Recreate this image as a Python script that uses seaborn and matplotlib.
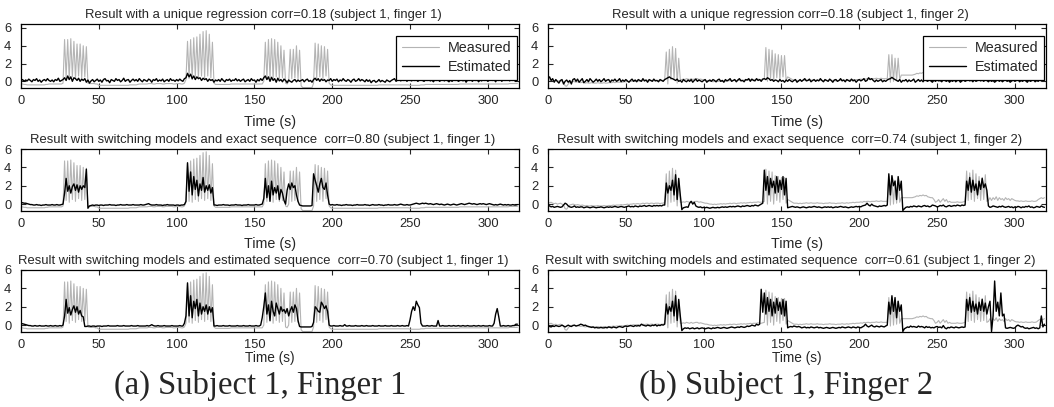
import numpy as np
import matplotlib
matplotlib.use("Agg")
import matplotlib.pyplot as plt
import seaborn as sns

# Data: one sample per second, t = 0 .. 319 s
# Finger 1 measured (same trace in all three panels)
meas_f1 = [
    -0.3, -0.3, -0.35, -0.35, -0.4, -0.4, -0.4, -0.4, -0.4, -0.4, -0.4, -0.4, -0.4, -0.4, -0.4, -0.4, -0.35, -0.35, -0.3, -0.3,
    -0.3, -0.3, -0.3, -0.3, -0.3, -0.3, -0.3, -0.2, 4.7, 0.4, 4.7, 0.2, 4.8, 0.5, 4.5, 0.3, 4.2, 0.6, 4.2, 0.4,
    4.0, 0.5, 3.9, -0.2, -0.25, -0.25, -0.25, -0.25, -0.3, -0.3, -0.45, -0.45, -0.45, -0.45, -0.45, -0.45, -0.45, -0.45, -0.45, -0.45,
    -0.45, -0.45, -0.45, -0.45, -0.45, -0.45, -0.45, -0.45, -0.45, -0.45, -0.4, -0.4, -0.4, -0.4, -0.4, -0.35, -0.3, -0.3, -0.3, -0.3,
    -0.3, -0.3, -0.25, -0.25, -0.25, -0.3, -0.3, -0.25, -0.25, -0.25, -0.25, -0.3, -0.3, -0.25, -0.25, -0.25, -0.25, -0.25, -0.3, -0.3,
    -0.25, -0.25, -0.25, -0.3, -0.3, -0.2, 0.2, 4.5, 0.3, 4.7, 0.2, 4.9, 0.5, 5.0, 0.3, 5.3, 0.6, 5.6, 0.4, 5.7,
    0.6, 5.3, 0.4, 4.4, -0.2, -0.35, -0.35, -0.35, -0.35, -0.35, -0.35, -0.35, -0.35, -0.35, -0.35, -0.3, -0.3, -0.3, -0.3, -0.3,
    -0.3, -0.3, -0.3, -0.3, -0.3, -0.3, -0.3, -0.3, -0.3, -0.3, -0.3, -0.3, -0.3, -0.3, -0.3, -0.3, 0.0, 4.4, 0.3, 4.7,
    0.4, 4.8, 0.2, 4.7, 0.5, 4.4, 0.3, 4.0, 0.4, 3.5, -0.2, -0.3, 0.0, 3.6, 0.3, 3.6, 0.4, 4.0, 0.3, 3.5,
    -0.5, -0.7, -0.7, -0.7, -0.7, -0.7, -0.7, -0.7, -0.2, 4.3, 0.3, 4.2, 0.5, 4.0, 0.3, 3.9, 0.6, 3.6, -0.2, -0.4,
    -0.45, -0.45, -0.45, -0.45, -0.45, -0.45, -0.45, -0.45, -0.45, -0.45, -0.45, -0.45, -0.45, -0.45, -0.45, -0.45, -0.45, -0.45, -0.45, -0.45,
    -0.45, -0.45, -0.45, -0.45, -0.45, -0.45, -0.45, -0.45, -0.45, -0.45, -0.4, -0.4, -0.4, -0.4, -0.4, -0.4, -0.4, -0.4, -0.4, -0.4,
    -0.4, -0.4, -0.4, -0.4, -0.4, -0.4, -0.4, -0.4, -0.4, -0.4, -0.45, -0.45, -0.45, -0.45, -0.45, -0.45, -0.45, -0.4, -0.4, -0.4,
    -0.35, -0.35, -0.35, -0.35, -0.35, -0.35, -0.35, -0.35, -0.35, -0.35, -0.35, -0.35, -0.35, -0.35, -0.35, -0.35, -0.35, -0.35, -0.35, -0.35,
    -0.35, -0.35, -0.3, -0.3, -0.3, -0.3, -0.3, -0.3, -0.3, -0.3, -0.3, -0.3, -0.3, -0.3, -0.3, -0.3, -0.3, -0.3, -0.3, -0.3,
    -0.3, -0.3, -0.3, -0.3, -0.3, -0.3, -0.3, -0.3, -0.3, -0.3, -0.3, -0.3, -0.3, -0.3, -0.25, -0.25, -0.25, -0.25, -0.25, -0.25,
]

# Finger 1 estimated, unique regression
est_f1_unique = [
    0.1, 0.2, 0.0, 0.15, 0.05, 0.25, 0.1, -0.05, 0.2, 0.1, 0.3, 0.0, 0.15, -0.1, 0.1, 0.2, 0.05, 0.3, 0.1, 0.0,
    0.15, -0.05, 0.2, 0.1, 0.35, 0.0, 0.1, 0.2, 0.4, 0.1, 0.6, 0.2, 0.5, 0.0, 0.4, 0.3, 0.1, 0.35, 0.0, 0.25,
    0.1, 0.3, -0.1, 0.15, -0.2, 0.05, 0.2, -0.05, 0.1, 0.25, 0.0, 0.15, -0.1, 0.2, 0.3, 0.05, 0.1, -0.15, 0.2, 0.1,
    0.0, 0.3, 0.1, 0.2, -0.05, 0.1, 0.35, 0.0, 0.15, 0.2, -0.1, 0.1, 0.25, 0.05, 0.2, 0.0, 0.3, 0.1, -0.05, 0.2,
    0.1, 0.0, 0.25, 0.15, -0.1, 0.2, 0.1, 0.3, 0.0, 0.15, 0.05, 0.25, -0.05, 0.1, 0.2, 0.0, 0.3, 0.1, 0.15, 0.0,
    0.2, 0.05, 0.25, 0.1, 0.0, 0.3, 0.4, 0.9, 0.5, 0.8, 0.3, 0.6, 0.2, 0.5, 0.3, 0.4, 0.1, 0.35, 0.2, 0.3,
    0.0, 0.25, 0.1, 0.2, -0.1, 0.15, 0.05, 0.2, 0.0, 0.3, 0.1, -0.05, 0.2, 0.1, 0.25, 0.0, 0.15, 0.1, 0.3, 0.05,
    0.2, 0.0, 0.15, 0.25, -0.05, 0.1, 0.2, 0.0, 0.3, 0.1, 0.15, -0.1, 0.2, 0.05, 0.3, 0.1, 0.4, 0.6, 0.2, 0.5,
    0.0, 0.45, 0.1, 0.3, -0.1, 0.35, 0.05, 0.2, -0.05, 0.25, 0.1, -0.15, 0.15, 0.0, -0.1, 0.1, 0.2, -0.05, 0.15, 0.0,
    0.1, 0.2, -0.05, 0.15, 0.25, 0.0, 0.1, -0.1, 0.2, 0.35, 0.1, 0.3, 0.0, 0.25, 0.1, 0.2, -0.05, 0.15, 0.1, 0.3,
    0.0, 0.2, 0.1, 0.25, -0.05, 0.15, 0.05, 0.3, 0.1, 0.0, 0.2, 0.1, -0.1, 0.15, 0.25, 0.0, 0.1, 0.3, 0.05, 0.2,
    0.1, -0.05, 0.2, 0.0, 0.15, -0.15, 0.05, 0.1, -0.1, 0.0, 0.2, -0.05, 0.1, 0.0, -0.1, 0.15, 0.05, -0.05, 0.1, 0.2,
    0.3, 0.0, 0.15, 0.35, 0.05, 0.2, 0.1, 0.3, 0.0, 0.25, 0.15, 0.05, 0.3, 0.1, 0.2, 0.0, 0.15, 0.25, 0.1, 0.0,
    0.2, 0.1, 0.3, 0.05, 0.15, -0.05, 0.2, 0.1, 0.25, 0.0, 0.15, 0.3, 0.05, 0.2, 0.1, -0.05, 0.15, 0.0, 0.2, 0.1,
    0.25, 0.0, 0.1, 0.3, 0.05, 0.2, -0.1, 0.15, 0.1, 0.3, 0.0, 0.2, 0.1, 0.25, -0.05, 0.15, 0.05, 0.3, 0.1, 0.2,
    0.0, 0.15, 0.35, 0.1, 0.2, -0.05, 0.3, 0.1, 0.25, 0.0, 0.4, 0.1, 0.2, 0.35, 0.05, 0.3, 0.1, 0.4, 0.0, 0.3,
]

# Finger 1 estimated, switching models with exact sequence
est_f1_exact = [
    0.15, 0.15, 0.1, 0.1, 0.05, 0.0, -0.05, -0.05, -0.1, -0.1, -0.05, -0.1, -0.1, -0.15, -0.1, -0.1, -0.05, -0.1, -0.1, -0.1,
    -0.05, -0.1, -0.1, -0.05, -0.1, -0.1, -0.05, 0.0, 1.2, 2.8, 1.4, 2.0, 1.2, 1.9, 2.2, 1.5, 2.1, 1.3, 2.0, 1.6,
    2.0, 1.8, 3.8, -0.45, -0.2, -0.15, -0.1, -0.15, -0.1, -0.1, -0.15, -0.1, -0.1, -0.15, -0.1, -0.1, -0.1, -0.05, -0.1, -0.1,
    -0.1, -0.15, -0.1, -0.1, -0.05, -0.1, -0.1, -0.1, -0.05, -0.1, -0.1, -0.1, -0.05, -0.1, -0.1, -0.1, -0.1, -0.05, -0.1, -0.1,
    -0.05, 0.0, 0.05, -0.05, -0.1, -0.1, -0.1, -0.05, -0.1, -0.1, -0.1, -0.15, -0.1, -0.1, -0.05, -0.1, -0.1, -0.1, -0.1, -0.15,
    -0.1, -0.1, -0.15, -0.1, -0.1, -0.05, 0.3, 4.5, 1.4, 3.5, 1.0, 3.0, 1.6, 2.6, 0.9, 2.2, 1.5, 2.9, 1.3, 2.0,
    1.5, 2.1, 1.2, 1.8, -0.1, -0.1, -0.15, -0.1, -0.1, -0.1, -0.05, -0.1, -0.1, -0.1, -0.15, -0.1, -0.1, -0.1, -0.05, -0.1,
    -0.1, -0.1, -0.15, -0.1, -0.1, -0.1, -0.05, -0.1, -0.1, -0.1, -0.1, -0.05, -0.1, -0.1, -0.05, 0.0, 0.6, 2.8, 0.7, 2.0,
    0.3, 2.5, 1.0, 1.8, 1.2, 2.0, 0.5, 1.6, 1.2, 0.4, 0.0, 1.5, 2.2, 1.6, 2.3, 1.8, 2.0, 1.0, 0.3, -0.1,
    -0.15, -0.2, -0.2, -0.2, -0.2, -0.2, -0.2, -0.15, 3.3, 2.6, 2.0, 1.3, 2.2, 2.8, 1.8, 1.6, 2.3, 1.0, 0.0, -0.1,
    -0.05, -0.1, -0.1, -0.05, -0.1, -0.1, -0.15, -0.1, -0.1, -0.05, -0.1, -0.1, -0.1, -0.15, -0.1, -0.1, -0.05, -0.1, -0.1, -0.1,
    -0.1, -0.05, -0.1, -0.1, -0.15, -0.1, -0.05, -0.1, -0.1, -0.1, -0.05, -0.1, -0.1, -0.15, -0.1, -0.1, -0.05, -0.1, -0.1, -0.1,
    -0.05, -0.1, -0.1, -0.05, 0.0, -0.05, -0.1, -0.1, -0.05, -0.1, -0.1, -0.05, 0.0, 0.05, 0.1, 0.05, 0.0, 0.05, 0.1, 0.05,
    0.1, 0.05, 0.0, 0.05, 0.0, -0.05, 0.0, 0.05, 0.0, -0.05, 0.0, -0.05, -0.1, -0.05, 0.0, -0.05, -0.1, -0.05, 0.0, -0.05,
    -0.1, -0.05, 0.0, 0.05, 0.0, -0.05, 0.0, 0.05, 0.1, 0.05, 0.0, 0.05, 0.0, -0.05, 0.0, 0.05, 0.0, 0.05, 0.0, -0.05,
    0.0, 0.05, 0.0, -0.05, -0.1, -0.05, -0.1, -0.05, 0.0, -0.05, -0.1, -0.05, -0.1, -0.05, -0.1, -0.1, -0.05, -0.1, -0.1, -0.05,
]

# Finger 1 estimated, switching models with estimated sequence
est_f1_seq = [
    0.15, 0.15, 0.1, 0.05, 0.0, -0.05, -0.05, -0.1, -0.1, -0.05, -0.1, -0.1, -0.05, -0.1, -0.1, -0.1, -0.05, -0.1, -0.1, -0.05,
    -0.1, -0.1, -0.05, -0.1, -0.1, -0.05, -0.1, 0.0, 1.0, 2.8, 1.3, 1.9, 1.1, 1.7, 2.1, 1.4, 2.0, 1.2, 1.6, 1.0,
    0.9, -0.15, -0.15, -0.1, -0.1, -0.15, -0.1, -0.1, -0.15, -0.1, -0.1, -0.1, -0.15, -0.1, -0.1, -0.1, -0.05, -0.1, -0.1, -0.1,
    -0.1, -0.1, -0.05, -0.1, -0.1, -0.1, -0.05, -0.1, -0.1, -0.1, -0.1, -0.05, -0.1, -0.1, -0.1, -0.05, -0.1, -0.1, -0.1, -0.1,
    -0.1, -0.05, -0.1, -0.05, 0.05, -0.05, -0.1, -0.1, -0.05, -0.1, -0.1, -0.1, -0.05, -0.1, -0.1, -0.1, -0.1, -0.05, -0.1, -0.1,
    -0.1, -0.1, -0.05, -0.1, -0.1, 0.2, 1.0, 4.6, 1.0, 3.2, 0.8, 2.6, 1.8, 2.8, 1.0, 2.4, 1.2, 2.0, 1.5, 2.2,
    1.2, 2.0, 1.4, 1.9, -0.1, -0.1, -0.05, -0.1, -0.1, -0.1, -0.05, -0.1, -0.1, -0.1, -0.05, -0.1, -0.1, -0.1, -0.1, -0.05,
    -0.1, -0.1, -0.1, -0.05, -0.1, -0.1, -0.1, -0.05, -0.1, -0.1, -0.1, -0.05, -0.1, -0.1, 0.0, 0.8, 2.0, 3.5, 1.2, 2.2,
    0.5, 2.6, 1.5, 1.0, 2.4, 1.8, 1.2, 2.0, 1.5, 1.7, 1.3, 1.8, 1.0, 1.6, 2.0, 1.4, 2.2, 1.8, 0.5, -0.15,
    -0.2, -0.2, -0.2, -0.2, -0.2, -0.2, -0.2, -0.15, 0.3, 2.0, 1.8, 1.5, 1.4, 2.5, 2.2, 1.8, 2.1, 1.5, 0.0, -0.1,
    -0.1, -0.05, -0.1, -0.1, -0.1, -0.05, -0.1, -0.1, 0.05, -0.1, -0.1, -0.05, -0.1, -0.1, -0.1, -0.05, -0.1, -0.1, -0.1, -0.05,
    -0.1, -0.1, -0.05, -0.1, -0.1, -0.1, -0.05, -0.1, -0.1, -0.1, -0.05, -0.1, -0.1, -0.1, -0.05, -0.1, -0.1, -0.1, -0.05, -0.1,
    -0.1, -0.1, -0.05, -0.1, -0.1, -0.05, -0.1, -0.1, -0.05, -0.1, 0.6, 1.5, 2.0, 1.6, 2.6, 2.2, 1.9, 0.2, -0.1, -0.1,
    -0.1, -0.05, -0.1, -0.1, -0.05, -0.1, -0.1, -0.1, 0.5, -0.1, -0.1, -0.05, -0.1, -0.1, -0.1, -0.05, -0.1, -0.1, -0.05, -0.1,
    -0.1, -0.05, -0.1, -0.1, -0.05, -0.1, -0.1, -0.05, -0.1, -0.1, -0.1, -0.05, -0.1, -0.1, -0.05, -0.1, -0.1, -0.05, -0.1, -0.1,
    -0.1, -0.05, -0.1, -0.1, 0.2, 1.2, 1.8, 0.9, -0.1, -0.1, -0.05, -0.1, -0.1, -0.05, -0.1, -0.1, -0.05, -0.05, 0.1, 0.1,
]

# Finger 2 measured (same trace in all three panels)
meas_f2 = [
    0.1, 0.15, 0.2, 0.1, 0.05, 0.1, 0.0, 0.05, 0.1, 0.0, -0.1, -0.5, -0.55, -0.3, -0.1, -0.05, 0.0, -0.05, -0.1, -0.05,
    -0.1, -0.15, -0.1, -0.15, -0.2, -0.15, -0.2, -0.2, -0.15, -0.2, -0.2, -0.2, -0.15, -0.2, -0.2, -0.2, -0.15, -0.2, -0.2, -0.15,
    -0.15, -0.15, -0.1, -0.15, -0.1, -0.1, -0.1, -0.05, -0.1, -0.05, -0.05, 0.0, -0.05, 0.0, 0.0, 0.05, 0.0, 0.05, 0.05, 0.0,
    0.05, 0.1, 0.05, 0.1, 0.1, 0.05, 0.1, 0.1, 0.05, 0.1, 0.1, 0.1, 0.05, 0.1, 0.1, 0.2, 3.3, -0.3, 3.6, 0.2,
    3.9, 0.3, 3.7, -0.2, 2.6, 0.2, 0.2, 0.25, 0.2, 0.3, 0.25, 0.2, 0.3, 0.2, 0.25, 0.3, 0.3, 0.2, 0.25, 0.2,
    0.15, 0.1, 0.1, 0.05, 0.0, 0.0, -0.05, 0.0, -0.05, 0.0, 0.0, 0.05, 0.0, 0.05, 0.0, 0.05, 0.05, 0.1, 0.05, 0.1,
    0.1, 0.05, 0.1, 0.1, 0.15, 0.1, 0.15, 0.1, 0.15, 0.15, 0.2, 0.15, 0.2, 0.2, 0.2, 0.25, 0.2, 0.2, 0.25, 0.3,
    3.8, 0.0, 3.6, 0.3, 3.5, 0.0, 3.1, 0.4, 3.0, 0.2, 2.9, 0.5, 2.9, 0.1, 0.5, 0.4, 0.3, 0.2, 0.1, 0.1,
    0.1, 0.05, 0.1, 0.05, 0.1, 0.1, 0.15, 0.1, 0.1, 0.15, 0.1, 0.1, 0.1, 0.15, 0.1, 0.1, 0.1, 0.05, 0.1, 0.1,
    0.1, 0.15, 0.1, 0.1, 0.1, 0.05, 0.1, 0.1, 0.1, 0.15, 0.1, 0.1, 0.15, 0.1, 0.15, 0.15, 0.2, 0.15, 0.2, 0.2,
    0.2, 0.25, 0.2, 0.3, 0.25, 0.3, 0.3, 0.25, 0.3, 0.3, 0.3, 0.35, 0.3, 0.3, 0.35, 0.3, 0.3, 0.3, 0.3, 3.0,
    -0.1, 3.0, 0.0, 2.6, 0.1, 2.6, 0.2, 0.7, 0.7, 0.7, 0.7, 0.7, 0.7, 0.7, 0.7, 0.75, 0.8, 0.9, 0.85, 0.95,
    0.9, 1.0, 0.9, 0.95, 0.8, 0.75, 0.7, 0.7, 0.5, 0.2, 0.3, 0.5, 0.2, 0.4, 0.6, 0.3, 0.5, 0.2, 0.3, 0.2,
    0.2, 0.2, 0.2, 0.25, 0.2, 0.2, 0.2, 0.25, 0.3, 3.6, 0.4, 3.4, 0.5, 3.7, 0.3, 3.3, 0.6, 3.0, 0.4, 2.9,
    0.5, 3.2, 0.3, 0.4, 0.7, 0.4, 0.7, 0.5, 0.8, 0.4, 0.7, 0.5, 0.6, 0.4, 0.7, 0.5, 0.6, 0.4, 0.6, 0.5,
    0.4, 0.35, 0.35, 0.3, 0.35, 0.3, 0.3, 0.35, 0.3, 0.3, 0.3, 0.35, 0.3, 0.3, 0.35, 0.5, 0.6, 0.7, 0.6, 0.7,
]

# Finger 2 estimated, unique regression
est_f2_unique = [
    0.3, 0.5, 0.1, 0.3, -0.1, 0.2, 0.0, -0.2, 0.1, 0.2, -0.3, 0.0, 0.15, -0.1, 0.1, -0.3, 0.2, 0.3, 0.0, 0.25,
    -0.1, 0.1, 0.3, -0.15, 0.0, 0.2, -0.05, 0.3, 0.1, -0.1, 0.05, 0.25, 0.0, 0.2, -0.05, 0.1, 0.3, 0.0, 0.15, 0.2,
    -0.1, 0.15, 0.05, 0.25, 0.0, 0.1, 0.3, -0.05, 0.15, 0.0, 0.2, 0.05, -0.1, 0.1, 0.25, 0.0, 0.15, -0.05, 0.2, 0.1,
    0.0, 0.3, 0.05, 0.15, -0.1, 0.2, 0.1, 0.0, 0.25, 0.05, 0.1, -0.05, 0.2, 0.1, 0.0, 0.2, 0.3, 0.4, 0.5, 0.35,
    0.3, 0.2, 0.1, 0.25, 0.0, 0.1, -0.1, 0.2, 0.05, -0.05, 0.15, 0.0, 0.2, -0.1, 0.1, 0.25, 0.0, 0.15, 0.05, -0.05,
    0.1, 0.2, -0.1, 0.05, 0.15, 0.0, 0.2, 0.1, -0.05, 0.15, 0.25, 0.0, 0.1, -0.1, 0.2, 0.05, 0.15, 0.3, 0.0, 0.1,
    0.2, -0.05, 0.15, 0.3, 0.05, 0.1, -0.05, 0.2, 0.15, 0.3, 0.0, 0.25, 0.1, 0.05, 0.3, 0.1, 0.2, 0.0, 0.25, 0.3,
    0.2, 0.4, 0.3, 0.1, 0.2, 0.0, 0.15, 0.1, -0.05, 0.2, 0.0, 0.1, -0.1, 0.15, 0.0, 0.2, 0.05, -0.05, 0.1, 0.2,
    -0.1, 0.05, 0.2, 0.0, 0.15, 0.3, 0.05, 0.1, 0.25, -0.05, 0.1, 0.2, 0.0, 0.15, 0.05, 0.3, 0.1, -0.05, 0.2, 0.1,
    0.0, 0.25, 0.1, -0.1, 0.15, 0.2, 0.0, 0.1, 0.3, 0.05, 0.15, -0.05, 0.2, 0.1, 0.0, 0.25, 0.05, 0.15, -0.1, 0.1,
    0.2, 0.05, 0.15, 0.3, 0.0, 0.1, 0.4, 0.2, 0.3, 0.1, -0.05, 0.15, 0.0, 0.1, 0.2, -0.05, 0.1, 0.0, 0.15, 0.25,
    0.3, 0.45, 0.3, 0.2, 0.1, 0.0, 0.2, -0.1, 0.1, 0.05, 0.2, -0.05, 0.15, 0.0, 0.1, 0.25, -0.1, 0.05, 0.2, 0.0,
    0.15, -0.05, 0.2, 0.1, 0.0, 0.25, 0.05, -0.1, 0.15, 0.0, 0.2, 0.05, 0.1, -0.05, 0.2, 0.1, 0.0, 0.15, -0.1, 0.1,
    0.0, 0.2, -0.05, 0.1, 0.15, -0.1, 0.05, 0.2, 0.0, 0.1, 0.25, 0.05, 0.15, -0.05, 0.2, 0.0, 0.1, 0.3, 0.05, 0.15,
    0.0, 0.2, 0.1, -0.05, 0.15, 0.0, 0.1, -0.1, 0.05, 0.2, 0.0, 0.15, -0.05, 0.1, 0.2, 0.0, 0.1, -0.1, 0.05, 0.15,
    0.0, 0.1, 0.25, -0.05, 0.1, 0.0, 0.2, 0.05, -0.1, 0.15, 0.0, 0.1, 0.2, -0.05, 0.1, 0.0, 0.2, 0.05, 0.15, 0.1,
]

# Finger 2 estimated, switching models with exact sequence
est_f2_exact = [
    -0.1, -0.2, -0.3, -0.25, -0.35, -0.3, -0.25, -0.3, -0.35, -0.3, -0.1, 0.1, 0.0, -0.2, -0.3, -0.35, -0.3, -0.2, -0.35, -0.3,
    -0.35, -0.3, -0.3, -0.4, -0.35, -0.3, -0.35, -0.4, -0.35, -0.3, -0.35, -0.4, -0.35, -0.35, -0.3, -0.35, -0.4, -0.35, -0.3, -0.35,
    -0.3, -0.35, -0.3, -0.25, -0.3, -0.35, -0.3, -0.25, -0.3, -0.35, -0.3, -0.25, -0.2, -0.3, -0.25, -0.3, -0.2, -0.25, -0.3, -0.2,
    -0.25, -0.2, -0.15, -0.25, -0.2, -0.15, -0.2, -0.25, -0.15, -0.2, -0.15, -0.2, -0.15, -0.2, -0.1, -0.1, 2.3, 1.2, 2.0, 1.5,
    2.6, 1.0, 3.2, 0.5, 2.8, 1.0, -0.6, -0.4, -0.35, -0.3, -0.35, 0.1, 0.3, 0.0, 0.2, -0.2, -0.3, -0.35, -0.3, -0.4,
    -0.35, -0.4, -0.35, -0.4, -0.45, -0.4, -0.35, -0.4, -0.4, -0.35, -0.4, -0.35, -0.3, -0.35, -0.3, -0.35, -0.3, -0.25, -0.3, -0.25,
    -0.3, -0.25, -0.2, -0.25, -0.3, -0.2, -0.25, -0.2, -0.15, -0.2, -0.25, -0.15, -0.2, -0.1, -0.15, -0.2, -0.1, 0.0, 0.1, 3.7,
    1.5, 3.0, 1.0, 2.8, 1.8, 2.5, 1.2, 3.0, 1.3, 2.6, 1.6, 3.0, 1.0, 2.8, -0.4, -0.35, -0.3, -0.25, -0.3, -0.35,
    -0.3, -0.35, -0.4, -0.35, -0.3, -0.35, -0.4, -0.35, -0.3, -0.35, -0.3, -0.25, -0.3, -0.35, -0.3, -0.35, -0.4, -0.35, -0.3, -0.35,
    -0.3, -0.35, -0.3, -0.4, -0.35, -0.3, -0.35, -0.3, -0.25, -0.3, -0.35, -0.3, -0.35, -0.4, -0.35, -0.3, -0.35, -0.3, -0.25, -0.3,
    -0.25, -0.3, -0.2, -0.15, -0.1, 0.1, -0.1, -0.2, 0.0, -0.15, -0.2, -0.25, -0.3, -0.2, -0.25, -0.2, -0.15, -0.2, -0.1, 3.3,
    1.0, 3.1, 2.0, 2.5, 0.5, 3.0, 1.5, 2.5, -0.7, -0.5, -0.35, -0.3, -0.35, -0.25, -0.3, -0.2, -0.25, -0.3, -0.2, -0.25,
    -0.3, -0.2, -0.15, -0.25, -0.2, -0.3, -0.25, -0.1, -0.15, -0.2, -0.3, -0.25, -0.15, -0.2, -0.1, -0.25, -0.3, -0.2, -0.15, -0.25,
    -0.2, -0.15, -0.2, -0.1, -0.15, -0.2, -0.1, -0.15, -0.1, 2.5, 1.5, 2.9, 1.3, 2.6, 1.5, 2.2, 1.0, 2.5, 1.6, 2.8,
    1.8, 2.2, 1.5, -0.2, -0.35, -0.3, -0.2, -0.25, -0.3, -0.35, -0.25, -0.3, -0.2, -0.3, -0.35, -0.3, -0.25, -0.35, -0.3, -0.4,
    -0.3, -0.35, -0.25, -0.3, -0.4, -0.3, -0.35, -0.25, -0.3, -0.2, -0.35, -0.3, -0.4, -0.35, -0.25, -0.3, -0.35, -0.2, -0.3, -0.35,
]

# Finger 2 estimated, switching models with estimated sequence
est_f2_seq = [
    -0.1, -0.15, -0.2, -0.1, -0.15, -0.05, -0.1, -0.15, -0.1, 0.0, -0.1, -0.2, -0.1, 0.0, -0.1, -0.15, -0.05, 0.0, -0.1, -0.05,
    0.0, 0.1, 0.05, -0.05, 0.0, -0.1, -0.15, -0.2, -0.25, -0.2, -0.3, -0.25, -0.3, -0.3, -0.25, -0.3, -0.3, -0.25, -0.3, -0.2,
    -0.25, -0.3, -0.2, -0.25, -0.3, -0.2, -0.15, -0.2, -0.25, -0.15, -0.1, -0.15, -0.1, -0.05, -0.1, -0.15, -0.05, -0.1, -0.05, -0.1,
    0.1, 0.0, -0.05, -0.1, 0.0, -0.05, -0.1, 0.0, -0.05, 0.05, -0.1, 0.0, -0.05, 0.05, 0.0, 0.1, 2.3, 1.2, 2.0, 1.5,
    2.6, 1.0, 3.2, 0.5, 2.8, 1.0, -0.6, -0.4, -0.3, -0.35, -0.3, -0.4, -0.35, -0.3, -0.4, -0.35, -0.3, -0.4, -0.35, -0.3,
    -0.35, -0.4, -0.35, -0.3, -0.35, -0.4, -0.3, -0.35, -0.3, -0.25, -0.3, -0.35, -0.3, -0.25, -0.3, -0.35, -0.3, -0.25, -0.2, -0.25,
    -0.3, -0.25, -0.2, -0.25, -0.15, -0.2, -0.25, -0.2, -0.1, -0.15, -0.1, 0.0, -0.05, -0.1, 0.1, 0.0, 0.1, 3.9, 1.4, 3.5,
    1.2, 3.0, 1.5, 2.8, 1.0, 2.5, 1.3, 2.9, 1.6, 2.5, 1.2, 2.8, 1.0, 2.6, -0.3, -0.2, -0.15, -0.2, -0.1, -0.15,
    -0.2, -0.15, -0.2, -0.3, -0.25, -0.2, -0.3, -0.25, -0.3, -0.2, -0.25, -0.3, -0.25, -0.2, -0.3, -0.25, -0.3, -0.35, -0.3, -0.25,
    -0.3, -0.35, -0.3, -0.25, -0.3, -0.35, -0.3, -0.25, -0.3, -0.2, -0.25, -0.3, -0.25, -0.2, -0.25, -0.3, -0.2, -0.25, -0.3, -0.2,
    -0.25, -0.3, -0.2, -0.1, 0.1, -0.1, -0.2, -0.1, 0.0, -0.15, -0.2, -0.1, -0.15, -0.2, -0.1, -0.15, -0.2, -0.1, 0.0, 2.5,
    1.2, 3.2, 1.5, 3.0, 0.8, 2.6, 1.5, 2.2, -0.7, -0.4, -0.3, -0.2, -0.25, -0.1, -0.2, -0.15, -0.2, -0.25, -0.1, -0.2,
    -0.15, -0.2, -0.3, -0.15, -0.25, -0.2, -0.3, -0.25, -0.3, -0.2, -0.15, -0.25, -0.2, -0.3, -0.05, -0.3, -0.4, -0.25, -0.3, -0.2,
    -0.25, -0.3, -0.2, -0.25, -0.3, -0.25, -0.2, -0.25, -0.2, 2.8, 1.6, 3.0, 1.4, 2.6, 1.5, 2.3, 1.2, 2.5, 1.6, 2.8,
    1.5, 2.4, 1.2, 2.0, 2.6, -0.7, 1.0, 4.8, 1.5, 2.5, 1.0, 3.5, 1.0, 1.2, -0.3, -0.35, -0.3, -0.25, -0.3, -0.35,
    -0.3, -0.1, 0.0, -0.1, -0.2, -0.15, -0.3, -0.35, -0.3, -0.4, -0.35, -0.3, -0.25, -0.35, -0.3, -0.4, -0.3, 1.0, -0.2, 0.1,
]

titles_f1 = [
    "Result with a unique regression corr=0.18 (subject 1, finger 1)",
    "Result with switching models and exact sequence  corr=0.80 (subject 1, finger 1)",
    "Result with switching models and estimated sequence  corr=0.70 (subject 1, finger 1)",
]
titles_f2 = [
    "Result with a unique regression corr=0.18 (subject 1, finger 2)",
    "Result with switching models and exact sequence  corr=0.74 (subject 1, finger 2)",
    "Result with switching models and estimated sequence  corr=0.61 (subject 1, finger 2)",
]
captions = ["(a) Subject 1, Finger 1", "(b) Subject 1, Finger 2"]
x_ticks = [0, 50, 100, 150, 200, 250, 300]
y_ticks = [0, 2, 4, 6]

series = [meas_f1, est_f1_unique, est_f1_exact, est_f1_seq,
          meas_f2, est_f2_unique, est_f2_exact, est_f2_seq]
if any(len(s) != 320 for s in series):
    raise ValueError(f"series lengths: {[len(s) for s in series]}")

sns.set_style("ticks")
plt.rcParams["font.family"] = ["Liberation Sans", "DejaVu Sans"]

GRAY = "#b4b4b4"
W, H = 1054, 407
fig = plt.figure(figsize=(W / 100, H / 100), dpi=100)

col_left = [21, 548]
col_width = 498
# per-row axes box (top pixel, height in pixels), y upper limit, xlabel pad/size
row_top = [24, 149, 270]
row_height = [64, 62, 62]
row_ytop = [6.45, 6.0, 6.0]
row_labelpad = [6, 5, 0]
row_labelsize = [10.3, 10.3, 9.8]

columns = [
    (meas_f1, [est_f1_unique, est_f1_exact, est_f1_seq], titles_f1),
    (meas_f2, [est_f2_unique, est_f2_exact, est_f2_seq], titles_f2),
]

for c, (measured, estimates, titles) in enumerate(columns):
    for r in range(3):
        rect = [col_left[c] / W, (H - row_top[r] - row_height[r]) / H,
                col_width / W, row_height[r] / H]
        ax = fig.add_axes(rect)
        t = np.arange(len(measured))
        sns.lineplot(x=t, y=measured, color=GRAY, lw=0.8, ax=ax,
                     estimator=None, legend=False)
        sns.lineplot(x=np.arange(len(estimates[r])), y=estimates[r],
                     color="black", lw=1.0, ax=ax, estimator=None, legend=False)
        ax.set_xlim(0, 320)
        ax.set_ylim(-0.75, row_ytop[r])
        ax.set_xticks(x_ticks)
        ax.set_yticks(y_ticks)
        ax.tick_params(direction="in", length=3.5, width=0.8, labelsize=9.3,
                       top=True, right=True)
        ax.tick_params(axis="x", pad=5)
        ax.tick_params(axis="y", pad=7)
        for sp in ax.spines.values():
            sp.set_visible(True)
            sp.set_linewidth(0.9)
            sp.set_color("black")
        ax.set_xlabel("Time (s)", fontsize=row_labelsize[r], labelpad=row_labelpad[r])
        ax.set_ylabel("")
        ax.set_title(titles[r], fontsize=9.4, x=0.486, pad=4)
        if r == 0:
            leg = ax.legend(ax.lines[:2], ["Measured", "Estimated"],
                            loc="upper right", bbox_to_anchor=(0.996, 0.82),
                            fontsize=10.3, frameon=True,
                            fancybox=False, framealpha=1, edgecolor="black",
                            handlelength=2.6, borderaxespad=0,
                            borderpad=0.4, labelspacing=0.35, handletextpad=0.6)
            leg.get_frame().set_linewidth(0.9)

for c, cap in enumerate(captions):
    fig.text([260, 786][c] / W, 1 - 385 / H, cap, ha="center", va="center",
             fontsize=23.5, family=["Liberation Serif", "DejaVu Serif"])

fig.savefig("out.png", dpi=100)
